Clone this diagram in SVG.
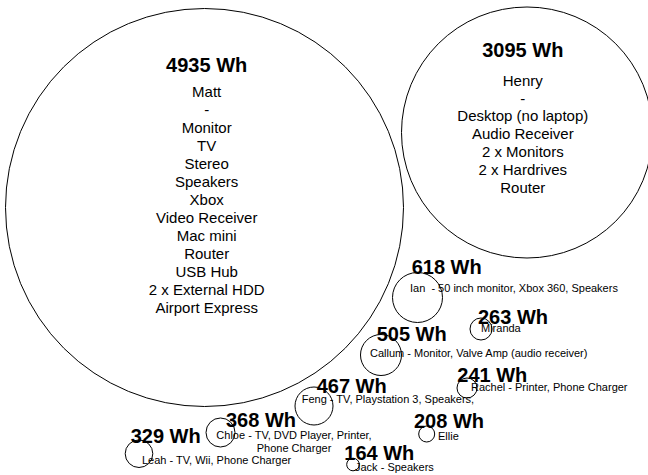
<svg xmlns="http://www.w3.org/2000/svg" width="648" height="475" viewBox="0 0 648 475">
<style>
  .c { fill: none; stroke: #000; stroke-width: 1; }
  .t { font-family: "Liberation Sans", Arial, Helvetica, sans-serif; font-weight: bold; font-size: 20px; fill: #000; }
  .b { font-family: "Liberation Sans", Arial, Helvetica, sans-serif; font-size: 15px; fill: #000; text-anchor: middle; }
  .d { font-family: "Liberation Sans", Arial, Helvetica, sans-serif; font-size: 11px; fill: #000; }
  .m { text-anchor: middle; }
</style>
<rect width="648" height="475" fill="#fff"/>
<g id="matt">
  <circle class="c" cx="204.5" cy="207.5" r="199"/>
  <text class="t m" x="206.7" y="71.7">4935 Wh</text>
  <text class="b" x="206.7" y="96.7">Matt</text>
  <text class="b" x="206.7" y="114.7">-</text>
  <text class="b" x="206.7" y="132.7">Monitor</text>
  <text class="b" x="206.7" y="150.7">TV</text>
  <text class="b" x="206.7" y="168.7">Stereo</text>
  <text class="b" x="206.7" y="186.7">Speakers</text>
  <text class="b" x="206.7" y="204.7">Xbox</text>
  <text class="b" x="206.7" y="222.7">Video Receiver</text>
  <text class="b" x="206.7" y="240.7">Mac mini</text>
  <text class="b" x="206.7" y="258.7">Router</text>
  <text class="b" x="206.7" y="276.7">USB Hub</text>
  <text class="b" x="206.7" y="294.7">2 x External HDD</text>
  <text class="b" x="206.7" y="312.7">Airport Express</text>
</g>
<g id="henry">
  <circle class="c" cx="527" cy="132.5" r="125.5"/>
  <text class="t m" x="522.8" y="56.7">3095 Wh</text>
  <text class="b" x="522.8" y="85.7">Henry</text>
  <text class="b" x="522.8" y="103.5">-</text>
  <text class="b" x="522.8" y="121.3">Desktop (no laptop)</text>
  <text class="b" x="522.8" y="139.1">Audio Receiver</text>
  <text class="b" x="522.8" y="156.9">2 x Monitors</text>
  <text class="b" x="522.8" y="174.7">2 x Hardrives</text>
  <text class="b" x="522.8" y="192.5">Router</text>
</g>
<g id="ian">
  <circle class="c" cx="417.5" cy="297.5" r="25"/>
  <text class="t" x="411.7" y="274.3">618 Wh</text>
  <text class="d" x="410" y="292.3">Ian&#160; - 50 inch monitor, Xbox 360, Speakers</text>
</g>
<g id="miranda">
  <circle class="c" cx="481" cy="329" r="11"/>
  <text class="t" x="478" y="324">263 Wh</text>
  <text class="d" x="481" y="332.3">Miranda</text>
</g>
<g id="callum">
  <circle class="c" cx="381" cy="355" r="20.5"/>
  <text class="t" x="376.7" y="340.7">505 Wh</text>
  <text class="d" x="370" y="356.7">Callum - Monitor, Valve Amp (audio receiver)</text>
</g>
<g id="rachel">
  <circle class="c" cx="467" cy="388" r="10"/>
  <text class="t" x="457.3" y="381.7">241 Wh</text>
  <text class="d" x="471" y="391">Rachel - Printer, Phone Charger</text>
</g>
<g id="feng">
  <circle class="c" cx="314" cy="406" r="19"/>
  <text class="t" x="316.7" y="393.3">467 Wh</text>
  <text class="d" x="301.7" y="403.3">Feng - TV, Playstation 3, Speakers,</text>
</g>
<g id="chloe">
  <circle class="c" cx="220.5" cy="432.5" r="14.5"/>
  <text class="t" x="226" y="426.7">368 Wh</text>
  <text class="d m" x="294" y="439.3">Chloe - TV, DVD Player, Printer,</text>
  <text class="d m" x="294" y="452.3">Phone Charger</text>
</g>
<g id="leah">
  <circle class="c" cx="139" cy="453.7" r="13.8"/>
  <text class="t" x="130.7" y="443.3">329 Wh</text>
  <text class="d" x="142" y="464">Leah - TV, Wii, Phone Charger</text>
</g>
<g id="ellie">
  <circle class="c" cx="426.7" cy="434" r="8"/>
  <text class="t" x="414" y="428.3">208 Wh</text>
  <text class="d" x="438" y="440">Ellie</text>
</g>
<g id="jack">
  <circle class="c" cx="353" cy="464.5" r="6.3"/>
  <text class="t" x="344.3" y="460">164 Wh</text>
  <text class="d" x="355" y="470.7">Jack - Speakers</text>
</g>
</svg>
